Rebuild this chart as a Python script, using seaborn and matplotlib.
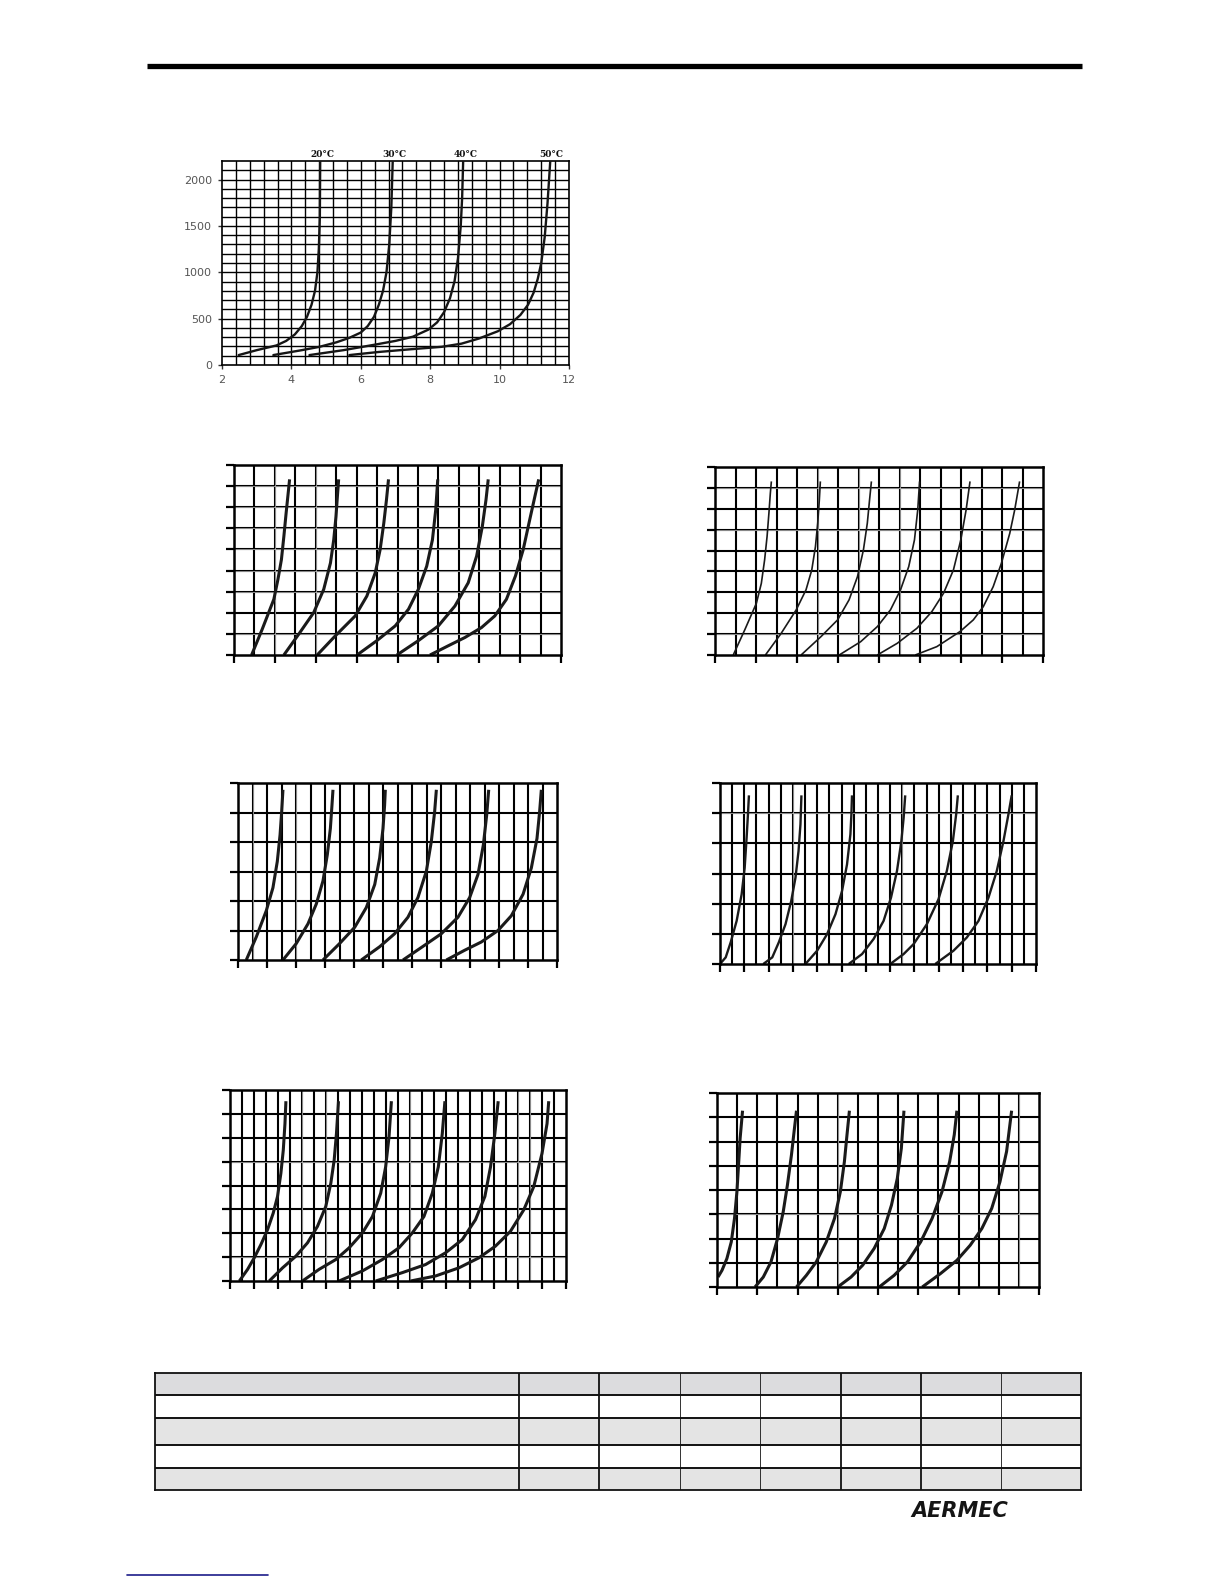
import numpy as np
import pandas as pd
import matplotlib
matplotlib.use("Agg")
import matplotlib.pyplot as plt
from matplotlib.lines import Line2D
import seaborn as sns

sns.set_style("white")
plt.rcParams['font.family'] = ['DejaVu Sans']

# ---------------- data ----------------
main_labels = ['20°C', '30°C', '40°C', '50°C']
main_label_x = [4.9, 6.98, 9.03, 11.5]
main_xticks = [2, 4, 6, 8, 10, 12]
main_yticks = [0, 500, 1000, 1500, 2000]
main_x = [
    [2.48, 3.0, 3.57, 3.85, 4.1, 4.3, 4.45, 4.58, 4.68, 4.75, 4.79, 4.82, 4.83],
    [3.48, 4.3, 4.81, 5.3, 5.67, 6.0, 6.2, 6.38, 6.52, 6.64, 6.74, 6.82, 6.88, 6.92],
    [4.52, 5.5, 6.43, 7.0, 7.5, 7.95, 8.2, 8.4, 8.57, 8.7, 8.8, 8.88, 8.92, 8.95],
    [5.67, 6.5, 7.38, 8.33, 8.9, 9.4, 9.95, 10.3, 10.6, 10.82, 10.98, 11.1, 11.2, 11.3, 11.38, 11.46],
]
main_y = [
    [107, 160, 211, 260, 330, 420, 520, 650, 800, 1000, 1250, 1600, 2200],
    [107, 160, 196, 245, 293, 350, 420, 520, 650, 800, 1000, 1300, 1700, 2200],
    [107, 160, 221, 260, 305, 382, 460, 570, 720, 900, 1150, 1500, 1800, 2200],
    [107, 140, 168, 196, 230, 285, 364, 440, 540, 650, 780, 930, 1100, 1380, 1740, 2200],
]

A_x = [[0.86, 1.38, 1.95, 2.15, 2.32, 2.44, 2.55, 2.65, 2.72],
       [2.44, 3.17, 3.9, 4.39, 4.72, 4.88, 4.99, 5.07, 5.12],
       [4.07, 4.96, 5.93, 6.5, 6.91, 7.15, 7.33, 7.46, 7.56],
       [6.02, 6.99, 7.89, 8.54, 9.02, 9.43, 9.71, 9.87, 9.97],
       [7.97, 9.02, 10.0, 10.81, 11.46, 11.87, 12.15, 12.33, 12.44],
       [9.59, 10.49, 11.3, 12.11, 12.76, 13.33, 13.77, 14.15, 14.47, 14.72, 14.91]]
A_y = [[0, 1.22, 2.64, 3.58, 4.52, 5.62, 6.72, 7.66, 8.32],
       [0, 0.99, 2.01, 3.11, 4.36, 5.46, 6.56, 7.66, 8.32],
       [0, 0.91, 1.85, 2.79, 3.89, 4.99, 6.25, 7.35, 8.32],
       [0, 0.68, 1.38, 2.17, 3.11, 4.21, 5.46, 6.88, 8.32],
       [0, 0.68, 1.38, 2.32, 3.42, 4.68, 6.09, 7.35, 8.32],
       [0, 0.44, 0.83, 1.3, 1.85, 2.64, 3.74, 4.99, 6.41, 7.5, 8.32]]

B_x = [[0.89, 1.45, 2.02, 2.26, 2.42, 2.54, 2.63, 2.7, 2.75],
       [2.46, 3.23, 3.96, 4.44, 4.72, 4.9, 5.01, 5.09, 5.14],
       [4.2, 5.17, 5.98, 6.54, 6.95, 7.24, 7.43, 7.54, 7.63],
       [6.06, 7.11, 7.92, 8.56, 9.05, 9.45, 9.73, 9.89, 9.98],
       [7.92, 8.89, 9.85, 10.58, 11.15, 11.63, 11.99, 12.25, 12.44],
       [9.77, 10.82, 11.95, 12.6, 13.09, 13.57, 13.97, 14.38, 14.62, 14.86]]
B_y = [[0, 1.2, 2.48, 3.43, 4.55, 5.67, 6.79, 7.75, 8.31],
       [0, 1.04, 2.16, 3.12, 4.07, 5.19, 6.31, 7.43, 8.31],
       [0, 0.88, 1.68, 2.64, 3.75, 5.03, 6.31, 7.43, 8.31],
       [0, 0.64, 1.36, 2.16, 3.12, 4.23, 5.51, 6.95, 8.31],
       [0, 0.56, 1.28, 2.08, 2.96, 4.07, 5.51, 6.95, 8.31],
       [0, 0.4, 1.12, 1.68, 2.32, 3.27, 4.39, 5.83, 6.95, 8.31]]

C_x = [[0.57, 1.26, 1.95, 2.41, 2.71, 2.9, 3.01, 3.1],
       [3.1, 4.02, 4.83, 5.4, 5.86, 6.16, 6.37, 6.48, 6.55],
       [5.86, 7.01, 8.05, 8.85, 9.43, 9.77, 10.0, 10.11, 10.16],
       [8.5, 9.77, 10.8, 11.72, 12.41, 12.99, 13.33, 13.56, 13.68],
       [11.38, 12.87, 14.02, 15.17, 15.98, 16.55, 16.92, 17.15, 17.29],
       [14.37, 15.63, 16.78, 17.93, 18.85, 19.66, 20.23, 20.62, 20.8, 20.92]]
C_y = [[0, 0.78, 1.67, 2.45, 3.34, 4.24, 5.02, 5.77],
       [0, 0.56, 1.23, 1.9, 2.68, 3.57, 4.46, 5.24, 5.77],
       [0, 0.56, 1.11, 1.78, 2.56, 3.46, 4.46, 5.24, 5.77],
       [0, 0.45, 0.89, 1.45, 2.12, 3.01, 4.01, 5.02, 5.77],
       [0, 0.5, 0.89, 1.45, 2.12, 2.9, 3.9, 4.91, 5.77],
       [0, 0.33, 0.61, 1.0, 1.5, 2.23, 3.12, 4.12, 5.02, 5.77]]

D_x = [[0.0, 0.47, 0.88, 1.37, 1.78, 2.03, 2.19, 2.3, 2.38],
       [3.56, 4.3, 4.84, 5.39, 5.86, 6.21, 6.46, 6.62, 6.7],
       [7.03, 7.99, 8.81, 9.5, 10.04, 10.45, 10.73, 10.81, 10.86],
       [10.59, 11.69, 12.64, 13.46, 14.07, 14.56, 14.92, 15.11, 15.24],
       [14.01, 15.11, 15.93, 17.02, 17.98, 18.66, 19.16, 19.43, 19.57],
       [17.71, 19.21, 20.31, 21.27, 22.09, 22.77, 23.32, 23.73, 24.0]]
D_y = [[0, 0.22, 0.72, 1.43, 2.31, 3.19, 4.19, 4.96, 5.59],
       [0, 0.22, 0.72, 1.32, 2.09, 2.86, 3.74, 4.63, 5.59],
       [0, 0.44, 0.99, 1.65, 2.42, 3.3, 4.3, 4.96, 5.59],
       [0, 0.33, 0.83, 1.43, 2.2, 3.08, 4.07, 4.85, 5.59],
       [0, 0.33, 0.66, 1.32, 2.15, 3.08, 4.07, 4.96, 5.59],
       [0, 0.44, 0.88, 1.43, 2.2, 3.08, 4.07, 4.96, 5.59]]

E_x = [[0.78, 1.47, 2.02, 2.58, 3.13, 3.6, 3.96, 4.24, 4.44, 4.58, 4.66],
       [3.27, 4.38, 5.49, 6.46, 7.29, 7.98, 8.4, 8.68, 8.87, 9.04],
       [6.04, 7.43, 8.82, 9.93, 11.03, 11.87, 12.56, 12.97, 13.25, 13.45],
       [9.09, 11.03, 12.7, 14.08, 15.19, 16.16, 16.86, 17.36, 17.69, 17.91],
       [12.14, 14.36, 16.3, 17.96, 19.35, 20.46, 21.24, 21.71, 22.07, 22.35],
       [15.05, 17.13, 19.07, 20.74, 22.12, 23.37, 24.48, 25.31, 26.0, 26.42, 26.56]]
E_y = [[0, 0.49, 0.97, 1.53, 2.15, 2.84, 3.54, 4.51, 5.48, 6.59, 7.53],
       [0, 0.55, 1.04, 1.6, 2.29, 3.12, 4.09, 5.06, 6.17, 7.53],
       [0, 0.49, 0.9, 1.39, 2.01, 2.7, 3.68, 4.78, 6.03, 7.53],
       [0, 0.42, 0.9, 1.39, 2.01, 2.7, 3.68, 4.78, 6.17, 7.53],
       [0, 0.35, 0.69, 1.18, 1.73, 2.57, 3.54, 4.78, 6.17, 7.53],
       [0, 0.21, 0.55, 0.97, 1.46, 2.08, 2.98, 3.95, 5.34, 6.59, 7.53]]

F_x = [[0.05, 0.25, 0.49, 0.71, 0.87, 0.99, 1.07, 1.15, 1.27],
       [1.89, 2.3, 2.68, 3.01, 3.29, 3.5, 3.7, 3.83, 3.95],
       [3.95, 4.44, 4.93, 5.43, 5.84, 6.13, 6.33, 6.46, 6.58],
       [6.0, 6.66, 7.24, 7.81, 8.31, 8.67, 8.96, 9.16, 9.29],
       [8.06, 8.8, 9.46, 10.12, 10.69, 11.18, 11.56, 11.79, 11.92],
       [10.2, 11.1, 11.92, 12.58, 13.16, 13.65, 14.06, 14.39, 14.64]]
F_y = [[0.41, 0.69, 1.17, 1.86, 2.83, 3.93, 5.03, 6.14, 7.27],
       [0, 0.41, 1.03, 2.0, 3.1, 4.21, 5.45, 6.41, 7.27],
       [0, 0.48, 1.03, 1.86, 2.83, 3.93, 5.17, 6.28, 7.27],
       [0, 0.41, 0.9, 1.59, 2.41, 3.38, 4.48, 5.72, 7.27],
       [0, 0.48, 1.03, 1.86, 2.83, 3.93, 5.17, 6.28, 7.27],
       [0, 0.55, 1.1, 1.72, 2.41, 3.24, 4.34, 5.59, 7.27]]

# ---------------- figure ----------------
W, H = 1224, 1584
fig = plt.figure(figsize=(W / 100, H / 100), dpi=100)
fig.patch.set_facecolor('white')


def rect(l, r, t, b):
    return [l / W, 1 - b / H, (r - l) / W, (b - t) / H]


def to_df(xs, ys):
    rows = []
    for k, (xx, yy) in enumerate(zip(xs, ys)):
        for a, b in zip(xx, yy):
            rows.append((k, a, b))
    return pd.DataFrame(rows, columns=['curve', 'x', 'y'])


# header rule
fig.add_artist(Line2D([147 / W, 1082 / W], [1 - 66 / H, 1 - 66 / H], color='black', lw=3.8,
                      solid_capstyle='butt'))

# ---- main chart ----
ax = fig.add_axes(rect(222, 569, 161, 365))
ax.set_xlim(2, 12)
ax.set_ylim(0, 2200)
for v in np.arange(2.4, 12, 0.4):
    ax.axvline(v, color='black', lw=1.0, zorder=1)
for v in range(100, 2200, 100):
    ax.axhline(v, color='black', lw=1.0, zorder=1)
sns.lineplot(data=to_df(main_x, main_y), x='x', y='y', units='curve', estimator=None,
             sort=False, color='#151515', lw=1.7, ax=ax, legend=False, zorder=3)
ax.set_xticks(main_xticks)
ax.set_yticks(main_yticks)
ax.set_xticklabels([str(t) for t in main_xticks])
ax.set_yticklabels([str(t) for t in main_yticks])
ax.tick_params(axis='both', length=3, width=1, color='#333333', labelsize=8,
               labelcolor='#555555', bottom=True, left=True, pad=4, direction='out')
for s in ax.spines.values():
    s.set_linewidth(1.2)
    s.set_color('black')
ax.set_xlabel('')
ax.set_ylabel('')
for lab, xv in zip(main_labels, main_label_x):
    ax.text(xv, 1.012, lab, transform=ax.get_xaxis_transform(), ha='center', va='bottom',
            fontsize=6.5, fontweight='bold', family='DejaVu Serif', color='#111111')


# ---- small charts ----
def small_panel(r, ncols, nrows, xs, ys, dbl_v, dbl_h, lw_curve):
    ax = fig.add_axes(r)
    ax.set_xlim(0, ncols)
    ax.set_ylim(0, nrows)
    for i in range(1, ncols):
        ax.axvline(i, color='black', lw=1.5, zorder=1)
        if i in dbl_v:
            ax.axvline(i, color='#c4c4c4', lw=0.5, zorder=1.5)
    for j in range(1, nrows):
        ax.axhline(j, color='black', lw=1.5, zorder=1)
        if j in dbl_h:
            ax.axhline(j, color='#c4c4c4', lw=0.5, zorder=1.5)
    line_df = to_df(xs, ys)
    sns.lineplot(data=line_df, x='x', y='y', units='curve', estimator=None,
                 sort=False, color='#1a1a1a', lw=lw_curve, ax=ax, legend=False, zorder=3)
    for ln in ax.get_lines()[-len(xs):]:
        ln.set_solid_joinstyle('round')
        ln.set_solid_capstyle('butt')
    ax.set_xticks(range(0, ncols + 1, 2))
    ax.set_yticks(range(0, nrows + 1))
    ax.tick_params(axis='both', length=6, width=1.6, color='black', direction='out',
                   bottom=True, left=True, labelbottom=False, labelleft=False)
    for s in ax.spines.values():
        s.set_linewidth(1.8)
        s.set_color('black')
        s.set_zorder(4)
    ax.set_xlabel('')
    ax.set_ylabel('')
    return ax


small_panel(rect(234, 561, 465, 655), 16, 9, A_x, A_y, [2, 4], [1, 3, 4, 5, 6, 7, 8], 2.2)
small_panel(rect(715, 1043, 467, 655), 16, 9, B_x, B_y, [5, 7, 9], [1, 6, 8], 1.2)
small_panel(rect(238, 557, 783, 960), 22, 6, C_x, C_y, [1, 4], [], 2.2)
small_panel(rect(720, 1036, 783, 964), 26, 6, D_x, D_y, [6, 15], [5], 1.7)
small_panel(rect(230, 566, 1090, 1281), 28, 8, E_x, E_y, [6, 8, 15, 24, 25], [1, 5], 2.2)
small_panel(rect(717, 1039, 1093, 1287), 16, 8, F_x, F_y, [6, 15], [3], 2.2)

# ---- empty table ----
tax = fig.add_axes(rect(155, 1081, 1373, 1490))
col_edges = [0, 364, 444, 525, 605, 686, 766, 846, 926]
row_edges = [0, 22, 45, 72, 95, 117]
row_colors = ['#dcdcde', '#ffffff', '#e4e4e4', '#ffffff', '#e4e4e4']
tax.set_xlim(0, 926)
tax.set_ylim(117, 0)
for k, c in enumerate(row_colors):
    tax.axhspan(row_edges[k], row_edges[k + 1], color=c, zorder=0, lw=0)
for y in row_edges[1:-1]:
    tax.axhline(y, color='#111111', lw=1.4, zorder=2)
thick_cols = {1, 2, 5, 6}
for i, xv in enumerate(col_edges[1:-1], start=1):
    tax.axvline(xv, color='#111111', lw=1.3 if i in thick_cols else 0.6, zorder=2)
tax.set_xticks([])
tax.set_yticks([])
for s in tax.spines.values():
    s.set_linewidth(1.3)
    s.set_color('#111111')

# ---- logo and footer ----
fig.text(960 / W, 1 - 1511 / H, 'AERMEC', ha='center', va='center', fontsize=15,
         fontweight='bold', style='italic', family='Liberation Sans Narrow', color='#151515')
fig.add_artist(Line2D([127 / W, 268 / W], [1 - 1575 / H, 1 - 1575 / H], color='#1c1c8a', lw=1.2))

fig.savefig('out.png', dpi=100, facecolor='white')
